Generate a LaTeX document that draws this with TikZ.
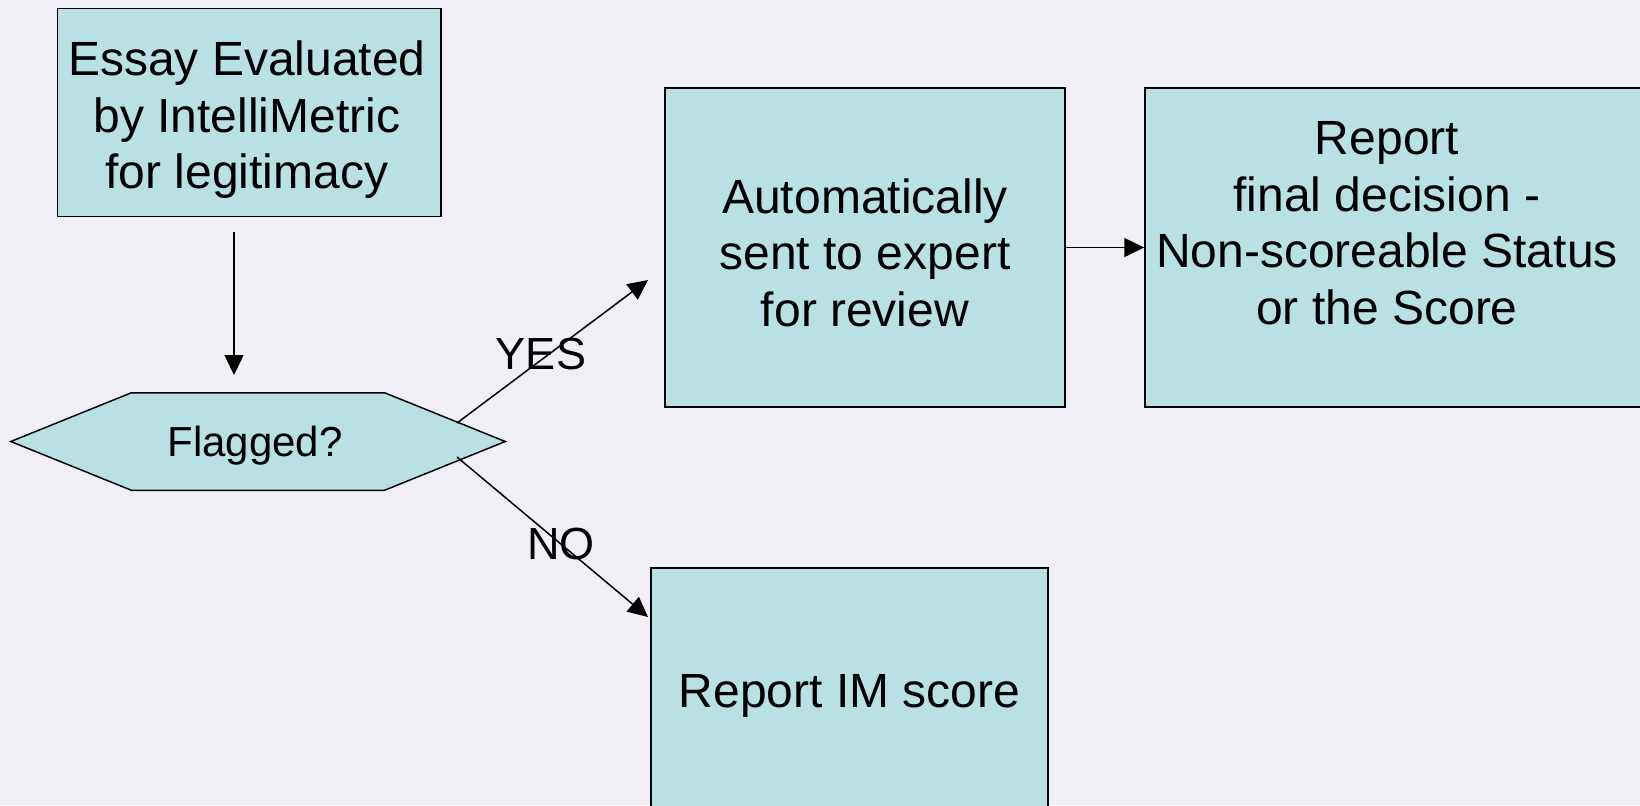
\documentclass[tikz,border=0pt]{standalone}
\usepackage{fontspec}
\setmainfont{Liberation Sans}
\usetikzlibrary{arrows.meta,shapes.symbols}

\definecolor{boxfill}{HTML}{B9E0E3}
\definecolor{backfill}{HTML}{EFEFF5}

\tikzset{
	box/.style={draw,line width=0.75pt,fill=boxfill,inner sep=0pt},
	boxtext/.style={inner sep=0pt,align=center,font=\fontsize{24}{28.25}\selectfont},
	flagbox/.style={signal,signal to=west and east,signal pointer angle=44,
		draw,line width=0.75pt,fill=boxfill,inner sep=0pt,
		minimum width=247.25pt,minimum height=48.75pt},
	arr/.style={line width=0.75pt,-{Triangle[length=10pt,width=9.5pt]}},
	answer/.style={font=\fontsize{22.5}{26}\selectfont,inner sep=0pt}
}

\begin{document}
\begin{tikzpicture}[x=0.5pt,y=-0.5pt]

\useasboundingbox (0,0) rectangle (1640,805);
\clip (0,0) rectangle (1640,805);
\fill [backfill] (0,0) rectangle (1640,805);

% boxes
\node [box,minimum width=191.75pt,minimum height=104pt] (essay) at (249.25,112.5) {};
\node [boxtext] (essaytext) at (247,120)
	{Essay Evaluated\\by IntelliMetric\\for legitimacy};

\node [flagbox] (flag) at (258,441.5) {};
\node [boxtext,font=\fontsize{21}{25}\selectfont] (flagtext) at (255,445.5) {Flagged?};

\node [box,minimum width=200pt,minimum height=159.5pt] (expert) at (865,247.5) {};
\node [boxtext] (experttext) at (865,252.5)
	{Automatically\\sent to expert\\for review};

\node [box,minimum width=250pt,minimum height=159.5pt] (final) at (1395,247.5) {};
\node [boxtext] (finaltext) at (1387,223)
	{Report\\final decision -\\Non-scoreable Status\\or the Score};

\node [box,minimum width=198.5pt,minimum height=122pt] (imscore) at (849.5,690) {};
\node [boxtext] (imscoretext) at (849.5,696) {Report IM score};

% free ends of the connectors
\coordinate (downtop) at (234,232);
\coordinate (downend) at (234,375);
\coordinate (yesstart) at (457,423);
\coordinate (yesend) at (648,280);
\coordinate (nostart) at (457,457);
\coordinate (noend) at (648,617);

\draw [arr] (downtop) -- (downend);
\draw [arr] (yesstart) -- (yesend);
\draw [arr] (nostart) -- (noend);
\draw [arr] (expert.east) -- (final.west);

\node [answer] (yes) at (541,354) {YES};
\node [answer] (no) at (561,544) {NO};

\end{tikzpicture}
\end{document}
